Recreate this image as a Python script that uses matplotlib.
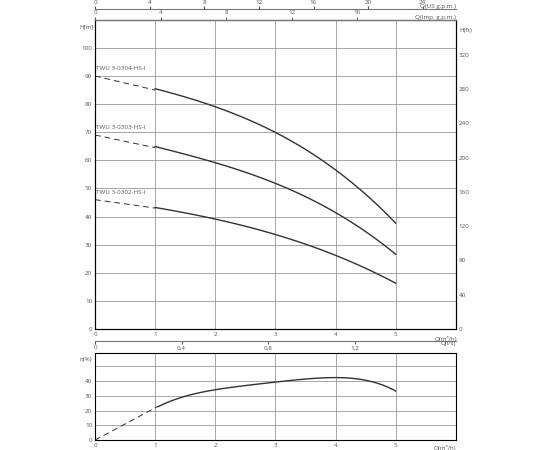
import matplotlib.pyplot as plt
import numpy as np

q_solid = [1.0, 1.5, 2.0, 2.5, 3.0, 3.5, 4.0, 4.5, 5.0]
h_0304 = [85, 83, 80, 74.5, 69, 63.5, 57, 49, 37]
h_0303 = [64.5, 62.5, 60, 55.5, 51, 46.5, 42, 35.5, 26]
h_0302 = [43, 41.5, 39.5, 36.5, 33, 30, 26.5, 22, 16]
h_start = [90, 69, 46]
labels = ["TWU 3-0304-HS-I", "TWU 3-0303-HS-I", "TWU 3-0302-HS-I"]
q_eta = [1.05, 1.5, 2.0, 2.5, 3.0, 3.5, 4.0, 4.3, 4.6, 5.0]
eta = [23, 29, 34.5, 37.5, 39.5, 41, 42, 42, 40.5, 33]

fs = 4.5
col = "#555555"
plt.rcParams['font.family'] = ['Open Sans', 'DejaVu Sans']


def smooth(x, y, deg=3):
    # smooth drawing of the read points
    xs = np.linspace(x[0], x[-1], 100)
    return xs, np.polyval(np.polyfit(x, y, deg), xs)


def scale_axis(fig, bottom, xmax, ticks, ticklabels, name, top):
    a = fig.add_axes([0.1727, bottom, 0.656, 0.0005])
    a.set_xlim(0, xmax)
    a.set_xticks(ticks)
    a.set_xticklabels(ticklabels)
    a.set_yticks([])
    a.patch.set_visible(False)
    for s in ["left", "right", "top", "bottom"]:
        a.spines[s].set_visible(False)
    if top:
        a.xaxis.tick_top()
        a.spines["top"].set_visible(True)
        a.spines["top"].set_color("#777777")
    else:
        a.spines["bottom"].set_visible(True)
        a.spines["bottom"].set_color("#777777")
    a.tick_params(labelsize=fs, colors=col, length=2, pad=1)
    a.text(1.0, 1.0 if top else 0.0, name, fontsize=fs, color=col, ha="right",
           va="bottom" if top else "top", transform=a.transAxes)
    return a


fig = plt.figure(figsize=(5.5, 4.5), dpi=100)
ax = fig.add_axes([0.1727, 0.269, 0.656, 0.687])
for h, h0, lab in zip([h_0304, h_0303, h_0302], h_start, labels):
    xs, ys = smooth(q_solid, h)
    ax.plot(xs, ys, color="#333333", lw=1)
    ax.plot([0, q_solid[0]], [h0, h[0]], color="#333333", lw=0.7, ls=(0, (6, 4)))
    ax.text(0.02, h0 + 2, lab, fontsize=fs, color=col)
ax.set_xlim(0, 6)
ax.set_ylim(0, 110)
ax.set_xticks(range(7))
ax.set_xticklabels(["0", "1", "2", "3", "4", "5", ""])
ax.set_yticks(range(0, 110, 10))
ax.grid(color="#999999", lw=0.6)
ax.tick_params(labelsize=fs, colors=col, length=0, pad=2)
ax.text(6.02, -2.5, "Q(m³/h)", fontsize=fs, color=col, ha="right", va="top")
ax.text(-0.02, 107, "H[m]", fontsize=fs, color=col, ha="right")
ax2 = ax.twinx()
ax2.set_ylim(0, 110 / 0.3048)
ax2.set_yticks(range(0, 361, 40))
ax2.set_yticklabels(["0"] + [str(v) for v in range(40, 361, 40)][:-1] + [""])
ax2.tick_params(labelsize=fs, colors=col, length=0, pad=2)
ax2.text(1.01, 0.96, "H(ft)", fontsize=fs, color=col, transform=ax.transAxes)

scale_axis(fig, 0.98, 6 * 4.403, list(range(0, 25, 4)), [str(v) for v in range(0, 25, 4)],
           "Q(US g.p.m.)", True)
scale_axis(fig, 0.956, 6 * 3.666, list(range(0, 20, 4)), [str(v) for v in range(0, 20, 4)],
           "Q(Imp. g.p.m.)", True)
scale_axis(fig, 0.242, 6 / 3.6, [0, 0.4, 0.8, 1.2], ["0", "0,4", "0,8", "1,2"], "Q(l/s)", False)

bx = fig.add_axes([0.1727, 0.022, 0.656, 0.193])
xs, ys = smooth(q_eta, eta, 4)
bx.plot(xs, ys, color="#333333", lw=1)
bx.plot([0, q_eta[0]], [0, eta[0]], color="#333333", lw=0.7, ls=(0, (6, 4)))
bx.set_xlim(0, 6)
bx.set_ylim(0, 59)
bx.set_xticks(range(7))
bx.set_xticklabels(["0", "1", "2", "3", "4", "5", ""])
bx.set_yticks(range(0, 60, 10))
bx.set_yticklabels(["0", "10", "20", "30", "40", ""])
bx.grid(color="#999999", lw=0.6)
bx.tick_params(labelsize=fs, colors=col, length=0, pad=2)
bx.text(6.0, -3, "Q(m³/h)", fontsize=fs, color=col, ha="right", va="top")
bx.text(-0.05, 54, "η(%)", fontsize=fs, color=col, ha="right")
fig.savefig("out.png", dpi=100)
